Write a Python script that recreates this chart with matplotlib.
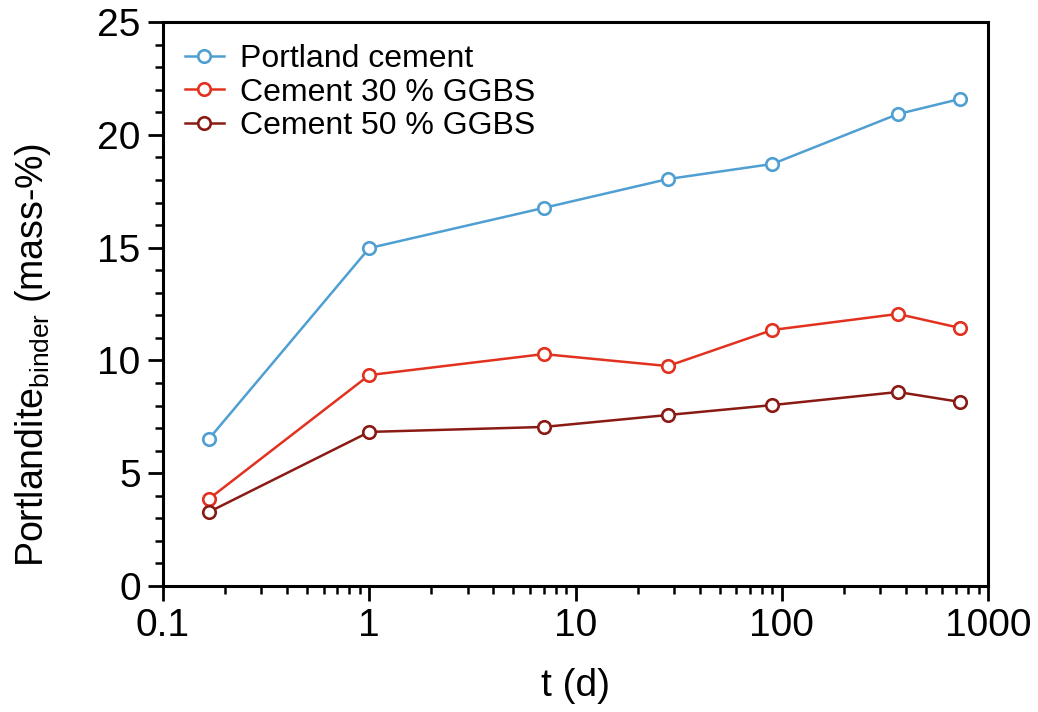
import numpy as np
import matplotlib.pyplot as plt
from matplotlib.ticker import MultipleLocator, FixedLocator, FixedFormatter

plt.rcParams['font.family'] = ['Liberation Sans', 'DejaVu Sans']
plt.rcParams['mathtext.default'] = 'regular'

# data
t_days = [0.167, 1, 7, 28, 90, 365, 730]
portland = [6.52, 14.98, 16.76, 18.04, 18.71, 20.92, 21.59]
ggbs_30 = [3.86, 9.35, 10.28, 9.75, 11.35, 12.06, 11.44]
ggbs_50 = [3.28, 6.83, 7.05, 7.58, 8.02, 8.60, 8.16]

series_names = ['Portland cement', 'Cement 30 % GGBS', 'Cement 50 % GGBS']
series_colors = ['#4f9fd2', '#e2321f', '#8a1a14']

x_ticks = [0.1, 1, 10, 100, 1000]
x_tick_labels = ['0.1', '1', '10', '100', '1000']


def main():
    fig = plt.figure(figsize=(10.38, 7.12), dpi=100)
    ax = fig.add_axes([0.157, 0.177, 0.795, 0.792])

    for values, name, color in zip([portland, ggbs_30, ggbs_50], series_names, series_colors):
        ax.plot(t_days, values, '-o', color=color, lw=1.8, ms=9, mew=1.9,
                mfc='white', mec=color, label=name)

    ax.set_xscale('log')
    ax.set_xlim(0.1, 1000)
    ax.set_ylim(0, 25)
    ax.xaxis.set_major_locator(FixedLocator(x_ticks))
    ax.xaxis.set_major_formatter(FixedFormatter(x_tick_labels))
    ax.yaxis.set_major_locator(MultipleLocator(5))
    ax.yaxis.set_minor_locator(MultipleLocator(1))

    for side in ax.spines.values():
        side.set_linewidth(2.2)
    ax.tick_params(which='major', length=11, width=2, labelsize=28, pad=5)
    ax.tick_params(which='minor', length=6, width=1.8)

    ax.set_xlabel('t (d)', fontsize=28)
    ax.set_ylabel('Portlandite$_{binder}$ (mass-%)', fontsize=27)
    ax.xaxis.set_label_coords(0.5, -0.145)
    ax.yaxis.set_label_coords(-0.133, 0.41)

    ax.legend(loc='upper left', frameon=False, fontsize=23, handlelength=1.2,
              handletextpad=0.5, labelspacing=0.1, borderaxespad=0.3, borderpad=0.4)

    fig.savefig('out.png', dpi=100)


if __name__ == "__main__":
    main()
